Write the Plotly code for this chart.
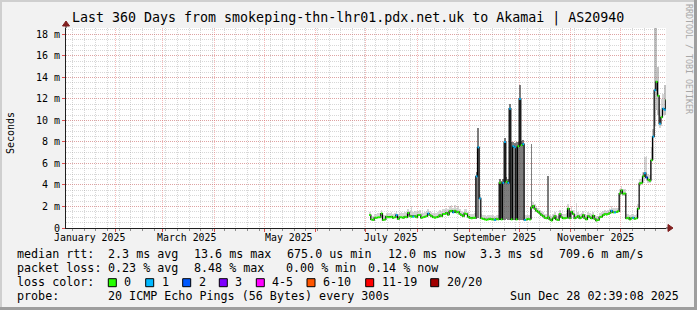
import plotly.graph_objects as go
import pandas as pd

# ---------------- data ----------------
# one consolidated RRD point per day (no data before early July)
days = pd.date_range("2025-07-03", "2025-12-28", freq="D")

# median round-trip time (ms)
med_jul = [1.2, 0.8, 0.75, 0.95, 0.95, 1.0, 1.0, 1.35, 0.75, 0.8,
           1.05, 1.0, 1.0, 1.05, 0.95, 1.0, 1.2, 0.85, 1.0, 1.0,
           0.95, 1.05, 1.0, 1.4, 1.1, 1.05, 1.05, 1.1, 1.0]
med_aug = [1.2, 1.2, 0.95, 1.0, 1.05, 1.1, 1.35, 1.2, 1.1, 1.0,
           0.95, 1.0, 1.05, 1.2, 1.1, 1.3, 1.3, 1.4, 1.25, 1.55,
           1.6, 1.45, 1.6, 1.45, 1.5, 1.3, 1.2, 1.1, 1.35, 1.3, 1.05]
med_sep = [0.95, 0.9, 0.95, 0.95, 4.8, 7.5, 2.75, 0.9, 0.85, 0.8,
           0.75, 0.8, 0.85, 0.8, 0.8, 0.75, 0.85, 0.8, 4.2, 0.8,
           4.2, 8.0, 4.3, 4.2, 11.1, 0.8, 7.6, 7.5, 0.8, 7.6]
med_oct = [12.0, 7.7, 7.8, 0.75, 0.8, 0.85, 0.8, 1.9, 2.05, 1.8,
           1.6, 1.5, 1.35, 1.2, 1.1, 0.95, 0.9, 1.0, 0.8, 0.7,
           0.9, 1.1, 0.8, 0.75, 1.3, 1.0, 0.9, 0.9, 0.95, 1.8, 0.9]
med_nov = [1.5, 1.3, 0.9, 1.0, 1.1, 0.9, 1.0, 1.2, 0.9, 0.8,
           1.1, 1.0, 0.9, 1.15, 0.85, 0.7, 0.75, 1.0, 1.05, 1.2,
           1.3, 1.25, 1.3, 1.4, 1.6, 1.45, 1.45, 1.5, 1.55, 3.2]
med_dec = [3.5, 3.2, 3.2, 0.9, 0.95, 0.8, 0.9, 0.95, 0.85, 0.9,
           1.8, 4.15, 4.2, 4.8, 5.1, 4.7, 4.5, 4.4, 6.3, 8.5,
           12.8, 13.6, 12.3, 9.7, 10.3, 11.1, 11.0, 11.9]

# smoke: highest ping of the day (ms)
hi_jul = [1.5, 1.2, 1.1, 1.3, 1.3, 1.4, 1.4, 1.7, 1.2, 1.2,
          1.4, 1.4, 1.4, 1.5, 1.3, 1.4, 1.6, 1.3, 1.4, 1.5,
          1.4, 1.5, 1.4, 1.8, 1.6, 2.05, 1.5, 1.6, 1.5]
hi_aug = [1.6, 1.7, 1.4, 1.4, 1.5, 1.6, 1.8, 1.6, 1.5, 1.4,
          1.4, 1.4, 1.5, 1.7, 1.6, 1.8, 1.8, 1.9, 1.8, 2.0,
          2.1, 1.9, 2.1, 1.9, 2.0, 1.8, 1.6, 1.5, 1.8, 1.8, 1.5]
hi_sep = [1.3, 1.3, 1.3, 1.4, 5.2, 9.3, 3.2, 1.3, 1.2, 1.2,
          1.1, 1.2, 1.2, 1.2, 1.2, 1.1, 1.2, 1.2, 4.6, 4.4,
          4.6, 8.4, 4.7, 4.6, 11.5, 8.0, 8.0, 7.9, 8.0, 8.0]
hi_oct = [13.3, 8.1, 8.2, 1.2, 1.2, 1.2, 1.2, 7.8, 2.4, 2.2,
          2.0, 1.9, 1.7, 1.6, 1.5, 1.3, 1.3, 4.8, 1.2, 1.1,
          1.3, 1.5, 1.2, 1.1, 1.7, 1.4, 1.3, 1.3, 1.4, 2.2, 1.4]
hi_nov = [2.0, 1.7, 1.3, 2.3, 1.5, 1.3, 1.4, 1.6, 1.3, 1.2,
          1.5, 1.4, 1.3, 1.5, 1.2, 1.1, 1.1, 1.4, 1.5, 1.6,
          1.7, 1.6, 1.7, 1.8, 2.0, 1.9, 1.9, 1.9, 1.9, 3.6]
hi_dec = [3.9, 3.6, 3.6, 1.3, 1.3, 1.2, 1.3, 1.3, 1.2, 1.3,
          2.2, 4.6, 4.6, 5.2, 6.6, 6.7, 5.0, 4.9, 7.5, 9.2,
          18.7, 18.7, 15.0, 11.0, 12.0, 12.5, 13.3, 12.6]

# smoke: lowest ping of the day (ms)
lo_jul = [1.1, 0.7, 0.65, 0.85, 0.85, 0.9, 0.9, 1.2, 0.65, 0.7,
          0.95, 0.9, 0.9, 0.95, 0.85, 0.9, 1.05, 0.75, 0.9, 0.9,
          0.85, 0.95, 0.9, 1.25, 1.0, 0.95, 0.95, 1.0, 0.9]
lo_aug = [1.1, 1.1, 0.85, 0.9, 0.95, 1.0, 1.2, 1.1, 1.0, 0.9,
          0.85, 0.9, 0.95, 1.1, 1.0, 1.2, 1.2, 1.3, 1.15, 1.4,
          1.45, 1.35, 1.45, 1.35, 1.4, 1.2, 1.1, 1.0, 1.2, 1.2, 0.95]
lo_sep = [0.85, 0.8, 0.85, 0.85, 0.8, 0.9, 0.8, 0.8, 0.75, 0.7,
          0.65, 0.7, 0.75, 0.7, 0.7, 0.65, 0.75, 0.7, 0.7, 0.7,
          0.7, 0.75, 0.8, 0.7, 0.7, 0.7, 0.7, 0.7, 0.7, 0.7]
lo_oct = [0.7, 0.75, 0.7, 0.65, 0.7, 0.75, 0.7, 0.8, 1.9, 1.7,
          1.5, 1.4, 1.25, 1.1, 1.0, 0.85, 0.8, 0.9, 0.7, 0.6,
          0.8, 1.0, 0.7, 0.65, 1.2, 0.9, 0.8, 0.8, 0.85, 0.9, 0.8]
lo_nov = [1.3, 1.2, 0.8, 0.9, 1.0, 0.8, 0.9, 1.1, 0.8, 0.7,
          1.0, 0.9, 0.8, 1.05, 0.75, 0.6, 0.65, 0.9, 0.95, 1.1,
          1.2, 1.15, 1.2, 1.3, 1.5, 1.35, 1.35, 1.4, 1.45, 1.5]
lo_dec = [3.2, 3.0, 3.0, 0.8, 0.85, 0.7, 0.8, 0.85, 0.75, 0.8,
          0.9, 3.9, 4.0, 4.2, 4.6, 4.4, 4.2, 4.2, 4.5, 6.3,
          9.5, 11.0, 10.5, 9.3, 9.5, 10.5, 10.5, 11.3]

# lost pings (out of 20) on days with loss; all other days 0
loss_days = {
    "2025-07-19": 1, "2025-07-29": 1, "2025-08-07": 1, "2025-08-22": 1,
    "2025-09-05": 1, "2025-09-06": 1, "2025-09-07": 1, "2025-09-16": 1,
    "2025-09-21": 1, "2025-09-22": 1, "2025-09-24": 1, "2025-09-25": 1,
    "2025-09-27": 1, "2025-09-28": 1, "2025-10-01": 1, "2025-10-03": 1,
    "2025-10-04": 1, "2025-11-25": 1, "2025-11-27": 1, "2025-12-08": 1,
    "2025-12-15": 1, "2025-12-16": 2, "2025-12-20": 1, "2025-12-21": 1,
    "2025-12-24": 1, "2025-12-26": 1, "2025-12-27": 1,
}

loss_labels = ["0", "1", "2", "3", "4-5", "6-10", "11-19", "20/20"]
loss_colors = ["#26ff00", "#00b8ff", "#0059ff", "#7e00ff",
               "#ff00ff", "#ff5500", "#ff0000", "#a10000"]

y_ticks = [0, 2, 4, 6, 8, 10, 12, 14, 16, 18]
y_ticktext = ["0"] + [f"{v} m" for v in y_ticks[1:]]
month_labels = ["January 2025", "March 2025", "May 2025",
                "July 2025", "September 2025", "November 2025"]
month_label_pos = ["2025-01-16", "2025-03-16", "2025-05-16",
                   "2025-07-16", "2025-09-16", "2025-11-16"]

title = "Last 360 Days from smokeping-thn-lhr01.pdx.net.uk to Akamai | AS20940"
stats_rtt = [("median rtt:", 16), ("2.3 ms avg", 107.3), ("13.6 ms max", 193.3),
             ("675.0 us min", 286), ("12.0 ms now", 386.7), ("3.3 ms sd", 479),
             ("709.6 m am/s", 558.3)]
stats_loss = [("packet loss:", 16), ("0.23 % avg", 107.3), ("8.48 % max", 193.3),
              ("0.00 % min", 285), ("0.14 % now", 367)]
probe_text = "20 ICMP Echo Pings (56 Bytes) every 300s"
stamp_text = "Sun Dec 28 02:39:08 2025"

median_ms = med_jul + med_aug + med_sep + med_oct + med_nov + med_dec
smoke_hi = hi_jul + hi_aug + hi_sep + hi_oct + hi_nov + hi_dec
smoke_lo = lo_jul + lo_aug + lo_sep + lo_oct + lo_nov + lo_dec
assert len(median_ms) == len(days) == len(smoke_hi) == len(smoke_lo)

# ---------------- geometry helpers (pixel -> paper) ----------------
W, H = 697, 310
L, R, T, B = 66, 666, 28, 228


def px(x):
    return (x - L) / (R - L)


def py(y):
    return (B - y) / (B - T)


MONO = "DejaVu Sans Mono"
DAY = pd.Timedelta(days=1)

fig = go.Figure()

# smoke: days whose pings split between a low and a high level are drawn darker
spread = [h - l for h, l in zip(smoke_hi, smoke_lo)]
smoke_col = []
for s, lo in zip(spread, smoke_lo):
    if s > 2.5 and lo < 2:
        smoke_col.append("rgba(70,70,70,0.7)")
    elif s > 2.5:
        smoke_col.append("rgba(120,120,120,0.45)")
    else:
        smoke_col.append("rgba(150,150,150,0.4)")
fig.add_trace(go.Bar(
    x=days, y=spread, base=smoke_lo,
    width=86400000, offset=0, marker=dict(color=smoke_col, line_width=0),
    hoverinfo="skip", showlegend=False))

# median black step line
bx, by = [], []
for d, m in zip(days, median_ms):
    bx += [d, d + DAY]
    by += [m, m]
fig.add_trace(go.Scatter(x=bx, y=by, mode="lines", line=dict(color="#000000", width=1.2),
                         hoverinfo="skip", showlegend=False))


def bucket(n):
    if n <= 3:
        return n
    if n <= 5:
        return 4
    if n <= 10:
        return 5
    if n <= 19:
        return 6
    return 7


segs = {i: ([], []) for i in range(len(loss_colors))}
for d, m in zip(days, median_ms):
    b = bucket(loss_days.get(d.strftime("%Y-%m-%d"), 0))
    segs[b][0].extend([d, d + DAY, None])
    segs[b][1].extend([m, m, None])
for b, (sx, sy) in segs.items():
    if sx:
        fig.add_trace(go.Scatter(x=sx, y=sy, mode="lines",
                                 line=dict(color=loss_colors[b], width=2),
                                 hoverinfo="skip", showlegend=False))

grid_minor = "rgba(150,150,150,0.38)"
grid_major = "rgba(230,90,90,0.42)"

fig.update_layout(
    width=W, height=H,
    margin=dict(l=L, r=W - R, t=T, b=H - B, pad=0),
    paper_bgcolor="#f2f2f2", plot_bgcolor="#ffffff",
    barmode="overlay", bargap=0, showlegend=False,
    font=dict(family=MONO, color="#000000"),
    xaxis=dict(
        type="date", range=["2025-01-02 02:39:08", "2025-12-28 02:39:08"],
        tickmode="linear", tick0="2025-01-01", dtick="M1",
        showticklabels=False, ticks="outside", ticklen=3, tickcolor="#de4f4f",
        showgrid=True, gridcolor=grid_major, griddash="1px,1px", gridwidth=1,
        minor=dict(tick0="2025-01-06", dtick=7 * 86400000, showgrid=True,
                   gridcolor=grid_minor, griddash="1px,1px", ticks="outside",
                   ticklen=2, tickcolor="#8f8f8f"),
        showline=True, linecolor="#1f1f1f", linewidth=1,
        zeroline=False, automargin=False, fixedrange=True),
    yaxis=dict(
        range=[0, 18.6], tickmode="array", tickvals=y_ticks, ticktext=y_ticktext,
        tickfont=dict(size=10, family=MONO), ticks="outside", ticklen=3,
        tickcolor="#de4f4f",
        showgrid=True, gridcolor=grid_major, griddash="1px,1px", gridwidth=1,
        minor=dict(dtick=0.5, showgrid=True, gridcolor=grid_minor,
                   griddash="1px,1px", ticks=""),
        showline=True, linecolor="#1f1f1f", linewidth=1,
        zeroline=False, automargin=False, fixedrange=True),
)

shapes = []
# frame shading
shapes.append(dict(type="rect", xref="paper", yref="paper", x0=px(0), x1=px(W), y0=py(0), y1=py(2),
                   fillcolor="#cfcfcf", line_width=0, layer="below"))
shapes.append(dict(type="rect", xref="paper", yref="paper", x0=px(0), x1=px(2), y0=py(0), y1=py(H),
                   fillcolor="#cfcfcf", line_width=0, layer="below"))
shapes.append(dict(type="rect", xref="paper", yref="paper", x0=px(W - 3), x1=px(W), y0=py(0), y1=py(H),
                   fillcolor="#9e9e9e", line_width=0, layer="below"))
shapes.append(dict(type="rect", xref="paper", yref="paper", x0=px(0), x1=px(W), y0=py(H - 3), y1=py(H),
                   fillcolor="#9e9e9e", line_width=0, layer="below"))
# axis extensions and arrows
shapes.append(dict(type="line", xref="paper", yref="paper", x0=px(R), x1=px(669), y0=0, y1=0,
                   line=dict(color="#1f1f1f", width=1)))
shapes.append(dict(type="path", xref="paper", yref="paper",
                   path=f"M {px(668)} {py(224.5)} L {px(673)} {py(228)} L {px(668)} {py(231.5)} Z",
                   fillcolor="#801f1f", line=dict(color="#801f1f", width=1)))
shapes.append(dict(type="line", xref="paper", yref="paper", x0=0, x1=0, y0=1, y1=py(24),
                   line=dict(color="#1f1f1f", width=1)))
shapes.append(dict(type="path", xref="paper", yref="paper",
                   path=f"M {px(62.5)} {py(26)} L {px(66)} {py(21)} L {px(69.5)} {py(26)} Z",
                   fillcolor="#801f1f", line=dict(color="#801f1f", width=1)))
# loss colour boxes
box_left = [108.3, 145.7, 182.7, 219.3, 256.3, 307, 365.7, 430.7]
for xl, c in zip(box_left, loss_colors):
    shapes.append(dict(type="rect", xref="paper", yref="paper",
                       x0=px(xl), x1=px(xl + 8), y0=py(286.7), y1=py(278.7),
                       fillcolor=c, line=dict(color="#000000", width=1)))
fig.update_layout(shapes=shapes)

ann = []


def text(x, y, s, size=11.7, xanchor="left", angle=0, color="#000000", family=MONO):
    ann.append(dict(xref="paper", yref="paper", x=px(x), y=py(y), text=s, showarrow=False,
                    xanchor=xanchor, yanchor="middle", textangle=angle, borderpad=0,
                    font=dict(size=size, color=color, family=family)))


text(347.5, 18.5, title, size=13.3, xanchor="center")
text(10, 133, "Seconds", size=10, xanchor="center", angle=-90)
text(689, 59, "RRDTOOL / TOBI OETIKER", size=8.3, xanchor="center", angle=90,
     color="#a8a8a8", family=MONO)
for s, x in stats_rtt:
    text(x, 254.3, s)
for s, x in stats_loss:
    text(x, 268.3, s)
text(16, 282.3, "loss color:")
for xl, lab in zip(box_left, loss_labels):
    text(xl + 15, 282.3, lab)
text(16, 296, "probe:")
text(107.3, 296, probe_text)
text(680, 296, stamp_text, xanchor="right")

for lab, pos in zip(month_labels, month_label_pos):
    ann.append(dict(xref="x", yref="paper", x=pos, y=py(237.7), text=lab, showarrow=False,
                    xanchor="center", yanchor="middle", borderpad=0,
                    font=dict(size=9.9, family=MONO, color="#000000")))
fig.update_layout(annotations=ann)

fig.write_html("out.html")
